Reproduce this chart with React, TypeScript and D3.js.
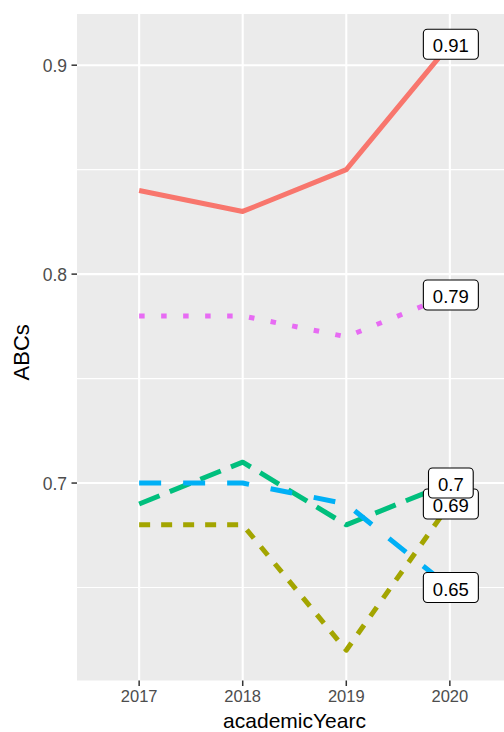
import React from 'react'
import * as d3 from 'd3'

const years = ['2017', '2018', '2019', '2020']
const seriesNames = ['a', 'b', 'c', 'd', 'e']
const seriesColors = ['#F8766D', '#A3A500', '#00BF7D', '#00B0F6', '#E76BF3']
const seriesDash = ['none', '11,11', '22,11', '22,22', '5.5,16.5']
const redValues = [0.84, 0.83, 0.85, 0.91]
const oliveValues = [0.68, 0.68, 0.62, 0.69]
const greenValues = [0.69, 0.71, 0.68, 0.7]
const blueValues = [0.7, 0.7, 0.69, 0.65]
const pinkValues = [0.78, 0.78, 0.77, 0.79]
const seriesValues = [redValues, oliveValues, greenValues, blueValues, pinkValues]
const majorTicks = [0.7, 0.8, 0.9]
const minorTicks = [0.65, 0.75, 0.85]

const width = 504
const height = 732
const margin = { top: 14, right: -8, bottom: 51.5, left: 77 }
const font = 'Liberation Sans, Arial, Helvetica, sans-serif'

const App: React.FC = () => {
  const left = margin.left
  const right = width - margin.right
  const top = margin.top
  const bottom = height - margin.bottom

  const x = d3.scalePoint<string>().domain(years).range([left, right]).padding(0.6)

  const all = seriesValues.flat()
  const lo = d3.min(all) as number
  const hi = d3.max(all) as number
  const pad = (hi - lo) * 0.05
  const y = d3.scaleLinear().domain([lo - pad, hi + pad]).range([bottom, top])

  const line = d3.line<number>()
    .x((_, i) => x(years[i]) as number)
    .y(d => y(d))

  const lastX = x(years[years.length - 1]) as number

  return (
    <svg width={width} height={height} style={{ position: 'absolute', left: 0, top: 0 }} fontFamily={font}>
      <rect x={0} y={0} width={width} height={height} fill="#fff" />
      <clipPath id="panel">
        <rect x={left} y={top} width={right - left} height={bottom - top} />
      </clipPath>
      <rect x={left} y={top} width={right - left} height={bottom - top} fill="#EBEBEB" />
      {minorTicks.map(t => (
        <line key={'mn' + t} x1={left} x2={right} y1={y(t)} y2={y(t)} stroke="#fff" strokeWidth={1.1} />
      ))}
      {majorTicks.map(t => (
        <line key={'mj' + t} x1={left} x2={right} y1={y(t)} y2={y(t)} stroke="#fff" strokeWidth={2.1} />
      ))}
      {years.map(yr => (
        <line key={'vx' + yr} x1={x(yr)} x2={x(yr)} y1={top} y2={bottom} stroke="#fff" strokeWidth={2.1} />
      ))}
      <g clipPath="url(#panel)">
        {seriesNames.map((s, i) => (
          <path
            key={s}
            d={line(seriesValues[i]) as string}
            fill="none"
            stroke={seriesColors[i]}
            strokeWidth={5}
            strokeDasharray={seriesDash[i]}
            strokeLinecap="butt"
            strokeLinejoin="round"
          />
        ))}
        {seriesNames.map((s, i) => {
          const v = seriesValues[i][years.length - 1]
          const txt = String(v)
          const digits = txt.replace('.', '').length
          const fs = 18.5
          const w = digits * 0.556 * fs + 0.278 * fs + 19
          const h = 30
          const cy = y(v)
          return (
            <g key={'lb' + s}>
              <rect x={lastX + 1 - w / 2} y={cy - h / 2} width={w} height={h} rx={4} fill="#fff" stroke="#000" strokeWidth={1.1} />
              <text x={lastX + 1} y={cy + 8} textAnchor="middle" fontSize={fs} fill="#000">{txt}</text>
            </g>
          )
        })}
      </g>
      {majorTicks.map(t => (
        <g key={'yt' + t}>
          <line x1={left - 5.5} x2={left} y1={y(t)} y2={y(t)} stroke="#333" strokeWidth={1.5} />
          <text x={left - 10} y={y(t) + 6.5} textAnchor="end" fontSize={17.5} fill="#4D4D4D">{t}</text>
        </g>
      ))}
      {years.map(yr => (
        <g key={'xt' + yr}>
          <line x1={x(yr)} x2={x(yr)} y1={bottom} y2={bottom + 5.5} stroke="#333" strokeWidth={1.5} />
          <text x={x(yr)} y={bottom + 21} textAnchor="middle" fontSize={16.5} fill="#4D4D4D">{yr}</text>
        </g>
      ))}
      <text x={(left + right) / 2} y={728} textAnchor="middle" fontSize={21} fill="#000">academicYearc</text>
      <text transform={`translate(29,${(top + bottom) / 2 + 5}) rotate(-90)`} textAnchor="middle" fontSize={22} fill="#000">ABCs</text>
    </svg>
  )
}

export default App
